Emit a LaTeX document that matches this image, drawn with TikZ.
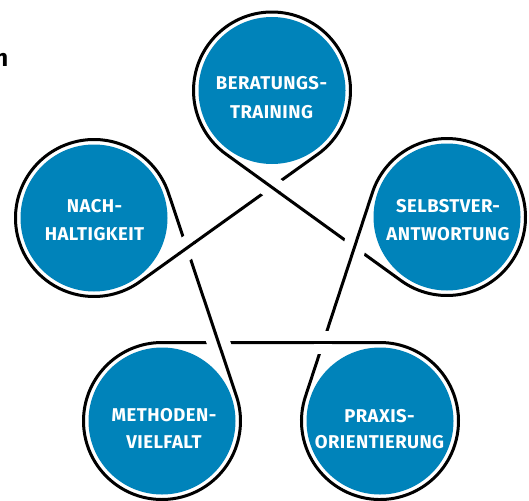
\documentclass[tikz,border=0pt]{standalone}
\usepackage{fontspec}
\setmainfont{Fira Sans}
\newfontfamily\lblfont[LetterSpace=2.5]{Fira Sans}
\usetikzlibrary{calc,intersections}
\definecolor{kblue}{RGB}{0,131,186}
\begin{document}
\begin{tikzpicture}[x=1pt,y=-1pt,
  knot/.style={draw=black, line width=3pt, line join=round},
  gapband/.style={draw=white, line width=23pt},
  disc/.style={circle, fill=kblue, minimum size=147pt, inner sep=0pt},
  lbl/.style={text=white, anchor=base, inner sep=0pt, font=\lblfont\fontsize{18.5}{18.5}\selectfont\bfseries}]
\useasboundingbox (0,0) rectangle (529,500);
% centres
\coordinate (T)  at (272,90.5);
\coordinate (R)  at (447,217);
\coordinate (BR) at (380,421);
\coordinate (BL) at (162,421);
\coordinate (L)  at (94,218);
% discs
\node[disc] (dT)  at (T)  {};
\node[disc] (dR)  at (R)  {};
\node[disc] (dBR) at (BR) {};
\node[disc] (dBL) at (BL) {};
\node[disc] (dL)  at (L)  {};
% tangent points
\coordinate (pT1)  at ($(T)!78.5pt!-90:(R)$);
\coordinate (pR1)  at ($(R)!78.5pt!90:(T)$);
\coordinate (pR2)  at ($(R)!78.5pt!-90:(BR)$);
\coordinate (pBR2) at ($(BR)!78.5pt!90:(R)$);
\coordinate (pBR3) at ($(BR)!78.5pt!-90:(BL)$);
\coordinate (pBL3) at ($(BL)!78.5pt!90:(BR)$);
\coordinate (pBL4) at ($(BL)!78.5pt!-90:(L)$);
\coordinate (pL4)  at ($(L)!78.5pt!90:(BL)$);
\coordinate (pL5)  at ($(L)!78.5pt!-90:(T)$);
\coordinate (pT5)  at ($(T)!78.5pt!90:(L)$);
% knot
\draw[knot] (pT1) -- (pR1)
  arc[start angle=234.14, end angle=521.82, radius=78.5pt] -- (pBR2)
  arc[start angle=161.82, end angle=450, radius=78.5pt] -- (pBL3)
  arc[start angle=90, end angle=378.52, radius=78.5pt] -- (pL4)
  arc[start angle=18.52, end angle=305.62, radius=78.5pt] -- (pT5)
  arc[start angle=305.62, end angle=594.14, radius=78.5pt] -- cycle;
% crossings
\path[name path=s1] (pT1) -- (pR1);
\path[name path=s2] (pR2) -- (pBR2);
\path[name path=s3] (pBR3) -- (pBL3);
\path[name path=s4] (pBL4) -- (pL4);
\path[name path=s5] (pL5) -- (pT5);
\path[name intersections={of=s1 and s5, by=x1}];
\path[name intersections={of=s2 and s1, by=x2}];
\path[name intersections={of=s3 and s2, by=x3}];
\path[name intersections={of=s4 and s3, by=x4}];
\path[name intersections={of=s5 and s4, by=x5}];
\foreach \x/\e in {x1/pR1, x2/pBR2, x3/pBL3, x4/pL4, x5/pT5}{
  \draw[gapband] ($(\x)!-9pt!(\e)$) -- ($(\x)!9pt!(\e)$);
  \draw[knot] ($(\x)!-10pt!(\e)$) -- ($(\x)!10pt!(\e)$);
}
% labels
\node[lbl] (tT1) at (271.5,89) {BERATUNGS-};
\node[lbl] (tT2) at (271.5,118) {TRAINING};
\node[lbl] (tL1) at (94.5,212) {NACH-};
\node[lbl] (tL2) at (94.5,240) {HALTIGKEIT};
\node[lbl] (tR1) at (448,212) {SELBSTVER-};
\node[lbl] (tR2) at (448,240) {ANTWORTUNG};
\node[lbl] (tBL1) at (164,421) {METHODEN-};
\node[lbl] (tBL2) at (164,448) {VIELFALT};
\node[lbl] (tBR1) at (379.5,422) {PRAXIS-};
\node[lbl] (tBR2) at (379.5,448.5) {ORIENTIERUNG};
% clipped heading letter
\node[anchor=base east, inner sep=0pt, font=\fontsize{24}{24}\selectfont\bfseries] (ntx) at (8.5,66.5) {n};
\end{tikzpicture}
\end{document}
